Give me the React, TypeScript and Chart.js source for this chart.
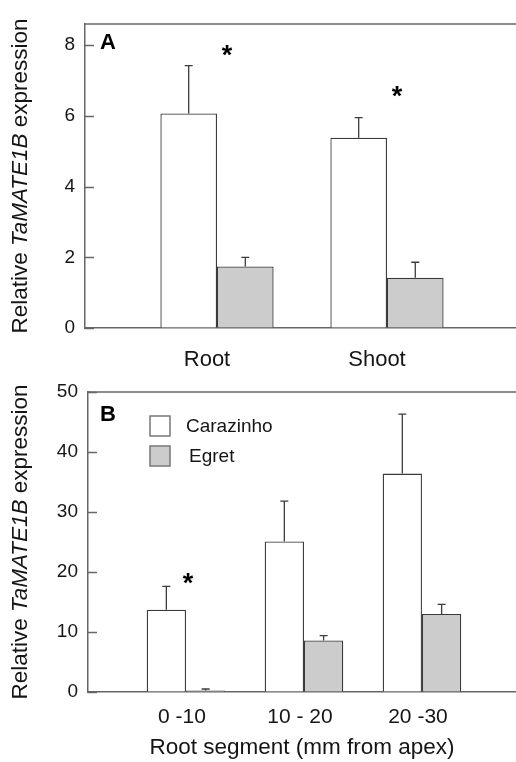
import React, { useEffect, useRef } from 'react';
import { Chart, registerables } from 'chart.js';

Chart.register(...registerables);

const FONT = '"Liberation Sans", Arial, Helvetica, sans-serif';

// ---------- Data: panel A ----------
const categoriesA = ['Root', 'Shoot'];
const carazinhoA = [6.07, 5.38];
const carazinhoErrA = [1.35, 0.57];
const egretA = [1.74, 1.42];
const egretErrA = [0.26, 0.44];
const asteriskA: (number | null)[] = [7.9, 6.75];
const yTickStepA = 2;
const yMaxA = 8.6;

// ---------- Data: panel B ----------
const categoriesB = ['0 -10', '10 - 20', '20 -30'];
const carazinhoB = [13.7, 25.1, 36.4];
const carazinhoErrB = [3.9, 6.7, 9.9];
const egretB = [0.25, 8.6, 13.0];
const egretErrB = [0.25, 0.8, 1.6];
const asteriskB: (number | null)[] = [19.2, null, null];
const yTickStepB = 10;
const yMaxB = 50;

const seriesNames = ['Carazinho', 'Egret'];
const yTitleParts = ['Relative ', 'TaMATE1B', ' expression'];
const xTitleB = 'Root segment (mm from apex)';

const AXIS = '#666666';
const TEXT = '#151515';
const BAR_EDGE = '#3a3a3a';

type PanelCfg = {
  letter: string;
  categories: string[];
  car: number[];
  carErr: number[];
  egr: number[];
  egrErr: number[];
  stars: (number | null)[];
  yMax: number;
  yStep: number;
  xMin: number;
  xMax: number;
  leftW: number;
  xAxisH: number;
  padTop: number;
  labelFont: number;
  labelPad: number;
  labelOffset: number;
  xTitle?: string;
  starDx: number;
  letterDx: number;
  letterDy: number;
  legend: boolean;
};

const decoPlugin = {
  id: 'deco',
  afterDatasetsDraw(chart: any, _args: any, opts: any) {
    const ctx = chart.ctx as CanvasRenderingContext2D;
    const yScale = chart.scales.y;
    const xScale = chart.scales.x;
    // error bars
    chart.data.datasets.forEach((ds: any, i: number) => {
      const meta = chart.getDatasetMeta(i);
      meta.data.forEach((el: any, j: number) => {
        const v = ds.data[j].y;
        const e = ds.errors[j];
        const yTop = yScale.getPixelForValue(v);
        const yErr = yScale.getPixelForValue(v + e);
        ctx.save();
        ctx.strokeStyle = '#3c3c3c';
        ctx.lineWidth = 1.3;
        ctx.beginPath();
        ctx.moveTo(el.x, yTop);
        ctx.lineTo(el.x, yErr);
        ctx.moveTo(el.x - 4, yErr);
        ctx.lineTo(el.x + 4, yErr);
        ctx.stroke();
        ctx.restore();
      });
    });
    // significance stars
    const stars: (number | null)[] = opts.stars || [];
    stars.forEach((lvl, j) => {
      if (lvl == null) return;
      const x = xScale.getPixelForValue(j + 1) + opts.starDx;
      const y = yScale.getPixelForValue(lvl);
      ctx.save();
      ctx.fillStyle = '#000';
      ctx.font = `bold 27px ${FONT}`;
      ctx.textAlign = 'center';
      ctx.textBaseline = 'alphabetic';
      ctx.fillText('*', x, y + 0.57 * 27);
      ctx.restore();
    });
  },
  afterDraw(chart: any, _args: any, opts: any) {
    const ctx = chart.ctx as CanvasRenderingContext2D;
    const { left, right, top, bottom } = chart.chartArea;
    const yScale = chart.scales.y;
    // top frame line
    ctx.save();
    ctx.strokeStyle = AXIS;
    ctx.lineWidth = 1.5;
    ctx.beginPath();
    ctx.moveTo(left, top);
    ctx.lineTo(right, top);
    ctx.stroke();
    // inward y tick marks
    yScale.ticks.forEach((t: any) => {
      const y = Math.round(yScale.getPixelForValue(t.value)) + 0.5;
      ctx.beginPath();
      ctx.moveTo(left, y);
      ctx.lineTo(left + 9, y);
      ctx.stroke();
    });
    ctx.restore();
    // panel letter
    ctx.save();
    ctx.fillStyle = '#000';
    ctx.font = `bold 22px ${FONT}`;
    ctx.textAlign = 'left';
    ctx.textBaseline = 'alphabetic';
    ctx.fillText(opts.letter, left + opts.letterDx, top + opts.letterDy);
    ctx.restore();
    // y-axis title with italic gene name
    const size = 22.5;
    const fonts = [`${size}px ${FONT}`, `italic ${size}px ${FONT}`, `${size}px ${FONT}`];
    ctx.save();
    let total = 0;
    const widths = yTitleParts.map((t, i) => {
      ctx.font = fonts[i];
      const w = ctx.measureText(t).width;
      total += w;
      return w;
    });
    ctx.translate(21, (top + bottom) / 2);
    ctx.rotate(-Math.PI / 2);
    ctx.fillStyle = TEXT;
    ctx.textBaseline = 'middle';
    ctx.textAlign = 'left';
    let cx = -total / 2;
    yTitleParts.forEach((t, i) => {
      ctx.font = fonts[i];
      ctx.fillText(t, cx, 0);
      cx += widths[i];
    });
    ctx.restore();
    // legend
    if (opts.legend) {
      chart.data.datasets.forEach((ds: any, i: number) => {
        const bx = left + 62;
        const by = top + 24 + i * 30;
        ctx.save();
        ctx.fillStyle = ds.backgroundColor;
        ctx.fillRect(bx, by, 20, 20);
        ctx.strokeStyle = '#777';
        ctx.lineWidth = 1.5;
        ctx.strokeRect(bx, by, 20, 20);
        ctx.fillStyle = TEXT;
        ctx.font = `19px ${FONT}`;
        ctx.textAlign = 'left';
        ctx.textBaseline = 'middle';
        ctx.fillText(ds.label, bx + 36 + i * 3, by + 11);
        ctx.restore();
      });
    }
  },
};

function buildConfig(p: PanelCfg): any {
  const toPts = (arr: number[]) => arr.map((v, i) => ({ x: i + 1, y: v }));
  return {
    type: 'bar',
    data: {
      datasets: [
        {
          label: seriesNames[0],
          data: toPts(p.car),
          errors: p.carErr,
          backgroundColor: '#ffffff',
          borderColor: BAR_EDGE,
          borderWidth: 1.3,
          categoryPercentage: 0.666,
          barPercentage: 1,
        },
        {
          label: seriesNames[1],
          data: toPts(p.egr),
          errors: p.egrErr,
          backgroundColor: '#cccccc',
          borderColor: BAR_EDGE,
          borderWidth: 1.3,
          categoryPercentage: 0.666,
          barPercentage: 1,
        },
      ],
    },
    options: {
      responsive: false,
      animation: false,
      events: [],
      layout: { padding: { top: p.padTop, left: 0, right: 0, bottom: 0 } },
      plugins: {
        legend: { display: false },
        tooltip: { enabled: false },
        deco: {
          letter: p.letter,
          stars: p.stars,
          starDx: p.starDx,
          letterDx: p.letterDx,
          letterDy: p.letterDy,
          legend: p.legend,
        },
      },
      scales: {
        x: {
          type: 'linear',
          min: p.xMin,
          max: p.xMax,
          offset: false,
          afterBuildTicks: (s: any) => {
            s.ticks = p.categories.map((_, i) => ({ value: i + 1 }));
          },
          ticks: {
            autoSkip: false,
            maxRotation: 0,
            font: { family: FONT, size: p.labelFont },
            color: TEXT,
            padding: p.labelPad,
            labelOffset: p.labelOffset,
            callback: (v: number) => p.categories[Math.round(v) - 1] ?? '',
          },
          grid: { offset: false, drawOnChartArea: false, drawTicks: false },
          border: { color: AXIS, width: 1.5 },
          title: p.xTitle
            ? {
                display: true,
                text: p.xTitle,
                color: TEXT,
                font: { family: FONT, size: 22.5 },
                padding: { top: 0, bottom: 1 },
              }
            : { display: false },
          afterFit: (s: any) => {
            s.height = p.xAxisH;
            s.paddingLeft = 0;
            s.paddingRight = 0;
          },
        },
        y: {
          min: 0,
          max: p.yMax,
          ticks: {
            stepSize: p.yStep,
            includeBounds: false,
            font: { family: FONT, size: 19 },
            color: TEXT,
            padding: 10,
          },
          grid: {
            drawOnChartArea: false,
            drawTicks: false,
          },
          border: { color: AXIS, width: 1.5 },
          afterFit: (s: any) => {
            s.width = p.leftW;
            s.paddingTop = 0;
            s.paddingBottom = 0;
          },
        },
      },
    },
    plugins: [decoPlugin],
  };
}

const panelA: PanelCfg = {
  letter: 'A',
  categories: categoriesA,
  car: carazinhoA,
  carErr: carazinhoErrA,
  egr: egretA,
  egrErr: egretErrA,
  stars: asteriskA,
  yMax: yMaxA,
  yStep: yTickStepA,
  xMin: 0.2235,
  xMax: 2.759,
  leftW: 85,
  xAxisH: 52,
  padTop: 24,
  labelFont: 22,
  labelPad: 19,
  labelOffset: -10,
  starDx: 10,
  letterDx: 15,
  letterDy: 25,
  legend: false,
};

const panelB: PanelCfg = {
  letter: 'B',
  categories: categoriesB,
  car: carazinhoB,
  carErr: carazinhoErrB,
  egr: egretB,
  egrErr: egretErrB,
  stars: asteriskB,
  yMax: yMaxB,
  yStep: yTickStepB,
  xMin: 0.1695,
  xMax: 3.797,
  leftW: 88,
  xAxisH: 70,
  padTop: 32,
  labelFont: 21,
  labelPad: 13,
  labelOffset: -4,
  xTitle: xTitleB,
  starDx: 2,
  letterDx: 12,
  letterDy: 29,
  legend: true,
};

function PanelChart({ cfg, top, height }: { cfg: PanelCfg; top: number; height: number }) {
  const ref = useRef<HTMLCanvasElement | null>(null);
  useEffect(() => {
    if (!ref.current) return;
    const chart = new Chart(ref.current, buildConfig(cfg));
    return () => chart.destroy();
  }, [cfg]);
  return (
    <canvas
      ref={ref}
      width={516}
      height={height}
      style={{ position: 'absolute', left: 0, top, width: 516, height, display: 'block' }}
    />
  );
}

export default function App() {
  return (
    <div
      style={{
        position: 'absolute',
        left: 0,
        top: 0,
        width: 516,
        height: 762,
        overflow: 'hidden',
        background: '#ffffff',
      }}
    >
      <PanelChart cfg={panelA} top={0} height={380} />
      <PanelChart cfg={panelB} top={360} height={402} />
    </div>
  );
}
